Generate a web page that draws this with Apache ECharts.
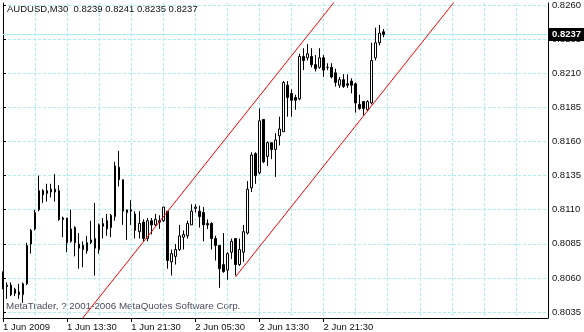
<!DOCTYPE html>
<html>
<head>
<meta charset="utf-8">
<script src="https://cdn.jsdelivr.net/npm/echarts@6/dist/echarts.min.js"></script>
<style>
html,body{margin:0;padding:0;background:#fff;}
#c{width:584px;height:332px;}
</style>
</head>
<body>
<div id="c"></div>
<script>
// ---- data ----
const symbolName = 'AUDUSD,M30';
const opens = [
0.8063,0.8053,0.8054,0.8048,0.8049,0.8047,0.8055,0.8084,0.8095,0.8109,
0.8123,0.8121,0.8124,0.8124,0.8123,0.8103,0.8103,0.8086,0.8096,0.8084,
0.8083,0.8079,0.8085,0.8088,0.8080,0.8097,0.8101,0.8096,0.8104,0.8140,
0.8131,0.8107,0.8109,0.8106,0.8093,0.8100,0.8088,0.8101,0.8098,0.8101,
0.8101,0.8108,0.8071,0.8075,0.8080,0.8089,0.8090,0.8098,0.8110,0.8108,
0.8107,0.8099,0.8099,0.8088,0.8083,0.8069,0.8065,0.8078,0.8088,0.8069,
0.8078,0.8092,0.8125,0.8150,0.8136,0.8175,0.8148,0.8158,0.8153,0.8163,
0.8166,0.8200,0.8194,0.8191,0.8190,0.8221,0.8220,0.8221,0.8215,0.8213,
0.8220,0.8213,0.8213,0.8209,0.8200,0.8204,0.8201,0.8203,0.8201,0.8186,
0.8188,0.8182,0.8187,0.8220,0.8231,0.8239
];
const closes = [
0.8052,0.8054,0.8047,0.8051,0.8047,0.8055,0.8083,0.8094,0.8107,0.8123,
0.8120,0.8123,0.8122,0.8122,0.8102,0.8102,0.8085,0.8095,0.8085,0.8081,
0.8080,0.8085,0.8087,0.8081,0.8098,0.8099,0.8095,0.8105,0.8141,0.8131,
0.8108,0.8109,0.8108,0.8094,0.8099,0.8088,0.8101,0.8098,0.8102,0.8100,
0.8111,0.8072,0.8077,0.8080,0.8090,0.8091,0.8099,0.8108,0.8111,0.8104,
0.8098,0.8098,0.8088,0.8083,0.8066,0.8064,0.8077,0.8086,0.8069,0.8080,
0.8093,0.8124,0.8149,0.8134,0.8174,0.8144,0.8158,0.8153,0.8160,0.8168,
0.8202,0.8191,0.8189,0.8189,0.8221,0.8218,0.8223,0.8215,0.8212,0.8220,
0.8211,0.8213,0.8206,0.8202,0.8204,0.8199,0.8200,0.8200,0.8187,0.8183,
0.8183,0.8188,0.8218,0.8231,0.8238,0.8237
];
const highs = [
0.8064,0.8056,0.8056,0.8052,0.8055,0.8056,0.8085,0.8095,0.8109,0.8134,
0.8124,0.8128,0.8128,0.8135,0.8127,0.8104,0.8103,0.8109,0.8097,0.8092,
0.8086,0.8090,0.8101,0.8114,0.8099,0.8103,0.8106,0.8106,0.8144,0.8152,
0.8131,0.8109,0.8116,0.8108,0.8108,0.8102,0.8103,0.8103,0.8106,0.8105,
0.8111,0.8108,0.8080,0.8084,0.8098,0.8094,0.8101,0.8113,0.8113,0.8112,
0.8111,0.8102,0.8100,0.8090,0.8083,0.8092,0.8078,0.8088,0.8088,0.8088,
0.8098,0.8130,0.8151,0.8151,0.8183,0.8175,0.8159,0.8158,0.8165,0.8177,
0.8203,0.8203,0.8197,0.8193,0.8223,0.8227,0.8230,0.8227,0.8222,0.8227,
0.8222,0.8216,0.8216,0.8212,0.8206,0.8208,0.8208,0.8205,0.8202,0.8193,
0.8188,0.8189,0.8231,0.8242,0.8244,0.8241
];
const lows = [
0.8051,0.8044,0.8046,0.8046,0.8044,0.8041,0.8054,0.8077,0.8094,0.8108,
0.8114,0.8115,0.8118,0.8115,0.8101,0.8089,0.8078,0.8085,0.8075,0.8066,
0.8067,0.8077,0.8084,0.8061,0.8077,0.8088,0.8090,0.8089,0.8101,0.8126,
0.8098,0.8087,0.8098,0.8088,0.8088,0.8086,0.8086,0.8091,0.8097,0.8095,
0.8100,0.8066,0.8061,0.8069,0.8079,0.8080,0.8088,0.8098,0.8107,0.8096,
0.8086,0.8095,0.8080,0.8072,0.8052,0.8063,0.8058,0.8073,0.8061,0.8068,
0.8071,0.8091,0.8122,0.8128,0.8135,0.8143,0.8141,0.8146,0.8133,0.8156,
0.8166,0.8177,0.8177,0.8182,0.8189,0.8211,0.8218,0.8213,0.8210,0.8212,
0.8206,0.8211,0.8205,0.8199,0.8198,0.8198,0.8198,0.8194,0.8180,0.8182,
0.8178,0.8181,0.8186,0.8218,0.8229,0.8235
];
const slotCount = 137;                // bar slots on the time axis (incl. chart shift)
const timeTickIndex = [0, 16, 32, 48, 64, 80];
const timeTickLabels = ['1 Jun 2009', '1 Jun 13:30', '1 Jun 21:30', '2 Jun 05:30', '2 Jun 13:30', '2 Jun 21:30'];
const priceTicks = { min: 0.8035, max: 0.8260, step: 0.0025 };
const bidPrice = 0.8237;
const upperChannel = [[18, 0.8023], [92, 0.8295]];
const lowerChannel = [[58, 0.8060], [120, 0.8288]];
const copyright = 'MetaTrader, ? 2001-2006 MetaQuotes Software Corp.';

// ---- build ----
const FONT = '"Liberation Sans", Arial, sans-serif';
const FS = 9.5;
const GRID = '#afeeee';
const TXT = '#111';
const slots = [];
for (let i = 0; i < slotCount; i++) slots.push(String(i));
const candles = opens.map((o, i) => [o, closes[i], lows[i], highs[i]]);
const last = opens.length - 1;
const titleText = symbolName + '  ' + opens[last].toFixed(4) + ' ' + highs[last].toFixed(4) + ' ' +
  lows[last].toFixed(4) + ' ' + closes[last].toFixed(4);
const bidLine = [[0, bidPrice], [slotCount - 1, bidPrice]];

const chart = echarts.init(document.getElementById('c'), null, { renderer: 'canvas' });
chart.setOption({
  animation: false,
  backgroundColor: '#ffffff',
  title: {
    text: titleText, left: 7, top: 4, padding: 0,
    textStyle: { fontFamily: FONT, fontSize: FS, fontWeight: 'normal', color: TXT }
  },
  grid: [
    { left: 3, top: 3, width: 545, height: 316, show: false },
    { left: 3, top: 3, width: 545, height: 309, show: false }
  ],
  xAxis: [
    {
      type: 'category', gridIndex: 0, data: slots, boundaryGap: false,
      axisLine: { show: true, lineStyle: { color: '#000', width: 1 } },
      axisTick: { show: true, length: 4, interval: (i) => timeTickIndex.includes(i), lineStyle: { color: '#000' } },
      axisLabel: {
        show: true, interval: (i) => timeTickIndex.includes(i),
        formatter: (v, i) => { const k = timeTickIndex.indexOf(i); return k >= 0 ? timeTickLabels[k] : ''; },
        align: 'left', margin: 4, fontFamily: FONT, fontSize: FS, color: TXT
      },
      splitLine: { show: true, interval: (i) => i % 8 === 0, lineStyle: { color: GRID, width: 1, type: [3, 2] } }
    },
    { type: 'value', gridIndex: 1, show: false, min: 0, max: 1 }
  ],
  yAxis: [
    {
      type: 'value', gridIndex: 0, position: 'right', min: 0.8030, max: 0.8260,
      axisLine: { show: true, lineStyle: { color: '#000', width: 1 } },
      axisTick: { show: false }, axisLabel: { show: false }, splitLine: { show: false }
    },
    {
      type: 'value', gridIndex: 1, position: 'right', min: priceTicks.min, max: priceTicks.max, interval: priceTicks.step,
      axisLine: { show: false },
      axisTick: { show: true, length: 3, lineStyle: { color: '#000' } },
      axisLabel: { show: true, showMinLabel: true, showMaxLabel: true, margin: 5, formatter: (v) => v.toFixed(4),
        fontFamily: FONT, fontSize: FS, color: TXT },
      splitLine: { show: true, lineStyle: { color: GRID, width: 1, type: [3, 2] } }
    },
    {
      type: 'value', gridIndex: 0, position: 'left', min: 0.8030, max: 0.8260,
      axisLine: { show: true, lineStyle: { color: '#000', width: 1 } },
      axisTick: { show: false }, axisLabel: { show: false }, splitLine: { show: false }
    }
  ],
  series: [
    {
      type: 'line', xAxisIndex: 0, yAxisIndex: 0, data: bidLine, symbol: 'none', silent: true, z: 1,
      lineStyle: { color: GRID, width: 1 },
      endLabel: { show: true, distance: 1, formatter: bidPrice.toFixed(4),
        backgroundColor: '#000', color: '#fff', padding: [2, 3, 1, 3], fontFamily: FONT, fontSize: FS, fontWeight: 'bold' }
    },
    {
      type: 'candlestick', xAxisIndex: 0, yAxisIndex: 0, data: candles, barWidth: 2, z: 4,
      itemStyle: { color: '#ffffff', color0: '#000000', borderColor: '#000000', borderColor0: '#000000', borderWidth: 1 }
    },
    {
      type: 'line', xAxisIndex: 0, yAxisIndex: 0, data: upperChannel, symbol: 'none', silent: true, z: 5,
      lineStyle: { color: '#ff0000', width: 1 }
    },
    {
      type: 'line', xAxisIndex: 0, yAxisIndex: 0, data: lowerChannel, symbol: 'none', silent: true, z: 5,
      lineStyle: { color: '#ff0000', width: 1 }
    }
  ],
  graphic: [
    { type: 'text', left: 6, top: 301, silent: true,
      style: { text: copyright, fontFamily: FONT, fontSize: 9.8, fill: '#4a4a5e' } }
  ]
});
</script>
</body>
</html>
